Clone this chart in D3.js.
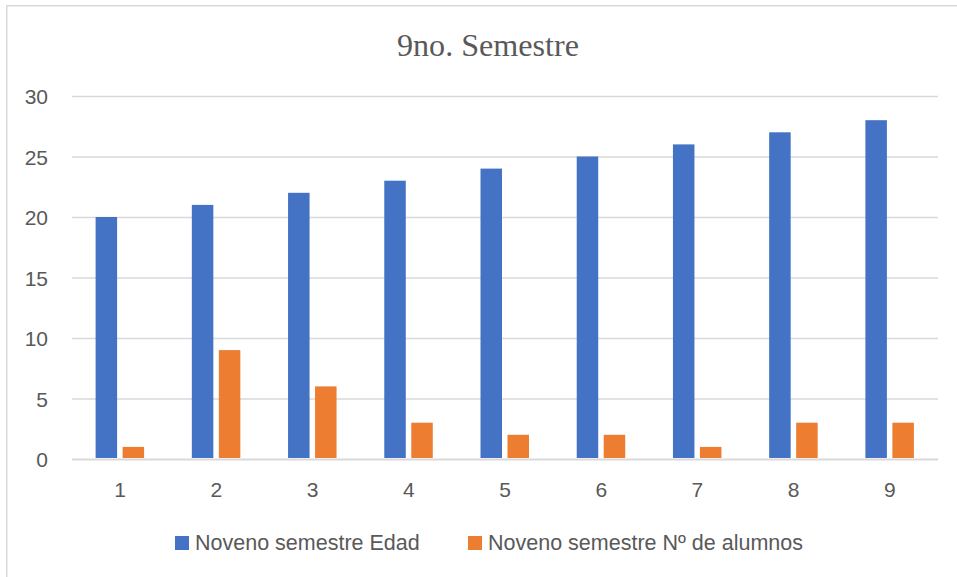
<!DOCTYPE html>
<html>
<head>
<meta charset="utf-8">
<script src="https://cdn.jsdelivr.net/npm/d3@7"></script>
<style>
  html, body { margin: 0; padding: 0; background: #fff; }
  svg { display: block; }
</style>
</head>
<body>
<svg id="chart" width="957" height="577"></svg>
<script>
// Semester groups on the x axis
const categories = ["1", "2", "3", "4", "5", "6", "7", "8", "9"];
// Age of the students in each group
const edad = [20, 21, 22, 23, 24, 25, 26, 27, 28];
// Number of students in each group
const alumnos = [1, 9, 6, 3, 2, 2, 1, 3, 3];
const yTicks = [0, 5, 10, 15, 20, 25, 30];
const seriesNames = ["Noveno semestre Edad", "Noveno semestre N\u00BA de alumnos"];
const seriesColors = ["#4472C4", "#ED7D31"];
const titleText = "9no. Semestre";

const svg = d3.select("#chart");
const plotLeft = 72, plotRight = 938, plotTop = 96, plotBottom = 459;

// Outer chart frame
svg.append("rect")
  .attr("x", 6.75).attr("y", 5.75)
  .attr("width", 1200).attr("height", 1200)
  .attr("fill", "#fff")
  .attr("stroke", "#d9d9d9").attr("stroke-width", 1.5);

// Title
svg.append("text")
  .attr("x", 488).attr("y", 56)
  .attr("text-anchor", "middle")
  .attr("font-family", "'Liberation Serif', 'Times New Roman', serif")
  .attr("font-size", 31)
  .attr("fill", "#595959")
  .attr("textLength", 182)
  .attr("lengthAdjust", "spacingAndGlyphs")
  .text(titleText);

const x = d3.scaleBand().domain(categories).range([plotLeft, plotRight]).padding(0);
const y = d3.scaleLinear().domain([0, 30]).range([plotBottom, plotTop]);

// Horizontal gridlines and y-axis labels
const yAxis = d3.axisLeft(y).tickValues(yTicks).tickSize(-(plotRight - plotLeft)).tickPadding(24);
const gy = svg.append("g").attr("transform", `translate(${plotLeft},0)`).call(yAxis);
gy.select(".domain").remove();
gy.selectAll(".tick line")
  .attr("stroke", "#d9d9d9")
  .attr("stroke-width", d => d === 0 ? 2 : 1.5);
gy.selectAll(".tick text")
  .attr("font-family", "'Liberation Sans', Arial, sans-serif")
  .attr("font-size", 21)
  .attr("fill", "#595959")
  .attr("dy", "0.36em");

// Bars
const barW = 21.5;
const g = svg.append("g");
g.selectAll("rect.edad")
  .data(categories)
  .join("rect")
  .attr("class", "edad")
  .attr("x", (d) => x(d) + x.bandwidth() / 2 - 3 - barW)
  .attr("width", barW)
  .attr("y", (d, i) => y(edad[i]))
  .attr("height", (d, i) => y(0) - y(edad[i]) - 1)
  .attr("fill", seriesColors[0]);

g.selectAll("rect.alumnos")
  .data(categories)
  .join("rect")
  .attr("class", "alumnos")
  .attr("x", (d) => x(d) + x.bandwidth() / 2 + 2.5)
  .attr("width", barW)
  .attr("y", (d, i) => y(alumnos[i]))
  .attr("height", (d, i) => y(0) - y(alumnos[i]) - 1)
  .attr("fill", seriesColors[1]);

// x-axis labels
const xAxis = d3.axisBottom(x).tickSize(0).tickPadding(23);
const gx = svg.append("g").attr("transform", `translate(0,${plotBottom})`).call(xAxis);
gx.select(".domain").remove();
gx.selectAll(".tick text")
  .attr("font-family", "'Liberation Sans', Arial, sans-serif")
  .attr("font-size", 21)
  .attr("fill", "#595959");

// Legend
const legendX = [175, 468];
const legend = svg.append("g");
seriesNames.forEach((name, i) => {
  legend.append("rect")
    .attr("x", legendX[i]).attr("y", 536)
    .attr("width", 14).attr("height", 14)
    .attr("fill", seriesColors[i]);
  legend.append("text")
    .attr("x", legendX[i] + 20).attr("y", 550)
    .attr("font-family", "'Liberation Sans', Arial, sans-serif")
    .attr("font-size", 21.5)
    .attr("fill", "#595959")
    .text(name);
});
</script>
</body>
</html>
